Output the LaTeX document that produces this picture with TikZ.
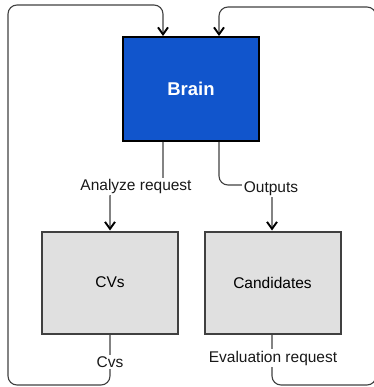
\documentclass[tikz,border=0pt]{standalone}
\usepackage{fontspec}
\setmainfont{Liberation Sans}
\usetikzlibrary{arrows.meta,calc}
\definecolor{brainblue}{HTML}{1155CC}
\definecolor{boxgray}{HTML}{E0E0E0}
\definecolor{wire}{HTML}{404040}
\tikzset{
  block/.style={draw=#1, line width=2pt, minimum width=136pt, minimum height=102pt, inner sep=0pt},
  flow/.style={draw=wire, line width=1.1pt, rounded corners=9pt},
  tip/.style={-{Straight Barb[length=7pt,width=10pt,line width=1.9pt,color=black]}},
  tag/.style={fill=white, inner sep=1.5pt, font=\fontsize{15.5}{17}\selectfont, text=black!90}
}
\begin{document}
\begin{tikzpicture}[x=1pt,y=-1pt]
\useasboundingbox (0,0) rectangle (373,387);

% boxes
\node[block=black, fill=brainblue, minimum height=104pt, text=white,
      font=\bfseries\fontsize{18.5}{20}\selectfont] (brain) at (191,89) {Brain};
\node[block=black!75, fill=boxgray, font=\fontsize{15.5}{17}\selectfont] (cvs) at (110,282.5) {CVs};
\node[block=black!75, fill=boxgray, font=\fontsize{15.5}{17}\selectfont] (cand) at (272.5,282.5) {Candidates};

% attachment points on the box sides
\coordinate (bl) at (163,0 |- brain.south);
\coordinate (br) at (219,0 |- brain.south);
\coordinate (tl) at (163,0 |- brain.north);
\coordinate (tr) at (219,0 |- brain.north);
\coordinate (cvtop) at (110,0 |- cvs.north);
\coordinate (cvbot) at (110,0 |- cvs.south);
\coordinate (catop) at (272,0 |- cand.north);
\coordinate (cabot) at (272,0 |- cand.south);

% Brain -> CVs
\draw[flow,tip] (bl) -- (163,187) -- (110,187) -- (cvtop);
\node[tag] (lanalyze) at (136,186.5) {Analyze request};

% Brain -> Candidates
\draw[flow,tip] (br) -- (219,185) -- (272,185) -- (catop);
\node[tag] (loutputs) at (271,188.5) {Outputs};

% CVs -> Brain (outer loop on the left)
\draw[flow,tip] (cvbot) -- (110,385) -- (8,385) -- (8,5) -- (163,5) -- (tl);
\node[tag] (lcvs) at (110,362) {Cvs};

% Candidates -> Brain (outer loop on the right)
\draw[flow,tip] (cabot) -- (272,385) -- (376,385) -- (376,7) -- (219,7) -- (tr);
\node[tag] (leval) at (273,358) {Evaluation request};
\end{tikzpicture}
\end{document}
